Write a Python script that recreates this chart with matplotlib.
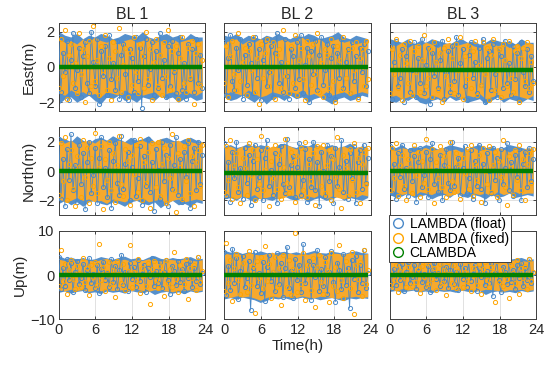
import numpy as np
import matplotlib
matplotlib.use("Agg")
import matplotlib.pyplot as plt
from matplotlib.lines import Line2D

plt.rcParams['font.family'] = ['Liberation Sans', 'DejaVu Sans']

baselines = ["BL 1", "BL 2", "BL 3"]
components = ["East(m)", "North(m)", "Up(m)"]
x_ticks = [0, 6, 12, 18, 24]
y_ticks = [[-2, 0, 2], [-2, 0, 2], [-10, 0, 10]]
y_limits = [(-2.5, 2.5), (-3, 3), (-10, 10)]
series_labels = ["LAMBDA (float)", "LAMBDA (fixed)", "CLAMBDA"]
data_end_hour = 23.5

bl1_east_float = [1.7, -1.4, 0.8, -0.3, 1.5, -1.9, 0.4, 1.9, -1.2, -0.2, 1.1, -1.7, 0.6, 1.4, -0.9, -1.5, 2.0, 0.3, -1.1, 1.6, -2.1, 0.9, -0.5, 1.2, -1.6, 1.8, -0.7, 0.2, -1.3, 1.5, -1.8, 0.7, 1.3, -0.4, -1.9, 1.0, 0.5, -1.4, 1.7, -0.8, 1.1, -2.3, 0.6, 1.6, -1.0, -0.1, 1.4, -1.6, 0.9, -1.2, 1.9, -0.6, 0.4, -1.7, 1.2, -1.1, 1.5, -0.3, -1.5, 0.8, 1.7, -1.3, 0.2, -1.8, 1.3, -0.7, 1.0, -1.4, 1.6, -0.9, 0.7, -1.2]
bl1_east_fixed = [-1.2, 1.6, -0.5, 2.1, -1.8, 0.7, 1.3, -0.9, 0.2, -1.5, 1.9, -0.4, 1.0, -2.0, 0.6, 1.5, -1.1, 2.3, -0.8, 0.4, -1.6, 1.2, -0.2, 1.8, -1.3, 0.5, -1.9, 1.4, 0.9, -0.6, 2.2, -1.4, 0.1, 1.1, -1.7, 0.8, -1.0, 1.7, -0.3, -1.5, 1.3, 0.6, -1.2, 2.0, -0.7, 1.0, -1.9, 0.3, 1.6, -1.1, 0.7, -1.6, 1.4, -0.5, 2.1, -1.3, 0.9, -0.2, 1.2, -1.8, 0.5, 1.7, -0.9, -1.4, 1.1, -0.6, 1.5, -2.1, 0.8, 1.3, -1.0, 0.4]
bl2_east_float = [1.4, -1.6, 0.5, 1.8, -0.8, -1.3, 1.1, -0.2, 1.6, -1.8, 0.7, -1.0, 1.3, 0.2, -1.5, 1.7, -0.6, 1.0, -1.9, 0.4, 1.5, -1.1, -0.3, 1.2, -1.7, 0.8, 1.9, -0.9, 0.3, -1.4, 1.6, -0.5, -1.8, 1.0, 0.6, -1.2, 1.4, -0.7, 1.8, -1.5, 0.1, 1.1, -2.0, 0.9, -0.4, 1.5, -1.3, 0.7, 1.7, -1.0, -0.2, 1.3, -1.6, 0.5, 1.2, -1.8, 0.8, -0.6, 1.6, -1.2, 0.3, 1.0, -1.5, 1.4, -0.8, 0.6, -1.7, 1.1, -0.3, 1.3, -1.1, 0.9]
bl2_east_fixed = [-0.9, 1.2, -1.7, 0.6, 1.5, -0.4, -1.3, 1.9, -0.8, 0.3, 1.1, -1.6, 0.9, -0.2, 1.7, -1.4, 0.5, -2.1, 1.3, -0.6, 0.8, 1.6, -1.1, -0.3, 1.4, -1.8, 0.7, 1.0, -1.2, 2.1, -0.5, 0.2, -1.5, 1.2, -0.9, 1.8, -1.6, 0.4, 1.1, -0.7, -1.9, 1.5, 0.6, -1.0, 1.3, -0.4, 1.9, -1.4, 0.2, -1.7, 1.0, 0.7, -1.2, 1.6, -0.8, -2.0, 1.2, 0.4, -1.3, 1.7, -0.6, 0.9, -1.5, 1.1, -0.2, 1.4, -1.8, 0.5, 1.0, -1.1, 1.5, -0.7]
bl3_east_float = [1.2, -1.8, 0.3, 1.5, -1.1, -0.6, 1.0, -2.0, 0.6, 1.3, -1.4, -0.2, 1.4, -1.7, 0.5, -0.9, 1.6, -1.5, 0.1, 1.1, -2.1, 0.8, -0.5, 1.3, -1.2, 0.4, 1.5, -1.8, -0.3, 0.9, -1.4, 1.2, -0.8, 1.7, -1.6, 0.2, 1.0, -1.1, -1.9, 0.7, 1.4, -0.6, 0.3, -1.5, 1.1, -1.0, 1.6, -2.0, 0.5, 0.9, -1.3, 1.3, -0.4, -1.7, 1.0, 0.6, -1.2, 1.5, -0.9, 0.2, -1.6, 1.2, -0.7, 0.8, -1.9, 1.4, -0.3, -1.1, 1.0, -1.4, 0.6, -0.8]
bl3_east_fixed = [-1.5, 1.0, -0.4, 1.6, -1.2, 0.7, -1.9, 1.3, 0.2, -0.9, 1.5, -1.6, 0.9, -0.3, 1.2, -1.4, 0.4, 1.8, -1.1, -0.6, 1.0, -1.7, 1.4, 0.3, -1.3, 0.8, -2.0, 1.1, -0.5, 1.6, -1.0, 0.5, -1.5, 1.3, -0.2, 1.7, -1.8, 0.6, -0.7, 1.2, -1.2, 0.9, 1.5, -1.6, 0.1, -1.0, 1.4, -0.4, 1.1, -1.9, 0.7, 1.6, -1.3, -0.2, 1.0, -1.7, 1.3, 0.4, -1.1, 1.5, -0.6, -1.4, 0.9, 1.2, -2.0, 0.5, 1.1, -0.8, 1.4, -1.2, 0.3, -0.9]

bl1_north_float = [2.2, -1.9, 0.8, -2.4, 1.5, -0.6, 2.5, -1.3, 0.4, -2.1, 1.8, -0.9, 1.2, -2.6, 0.6, 2.0, -1.5, -0.3, 1.6, -2.2, 0.9, 2.3, -1.1, 0.2, -1.8, 1.4, -2.5, 0.7, 1.9, -0.8, -1.6, 2.4, -1.2, 0.5, 1.3, -2.0, 0.3, 2.1, -1.7, -0.5, 1.7, -2.3, 1.0, -1.0, 2.2, -1.4, 0.6, -2.7, 1.5, 0.1, -1.9, 2.0, -0.7, 1.1, -2.4, 1.8, -1.2, 0.4, 2.3, -1.6, 0.8, -2.1, 1.3, -0.4, 1.9, -2.5, 0.7, 1.6, -1.3, 2.0, -0.9, 1.1]
bl1_north_fixed = [-1.6, 1.9, -0.7, 2.3, -2.0, 0.5, 1.4, -1.2, -2.4, 1.0, 0.3, -1.8, 2.1, -0.4, 1.6, -2.2, 0.9, -1.0, 2.6, -1.5, 0.2, 1.7, -2.6, 0.8, -0.6, 2.0, -1.3, 1.2, -2.1, 0.4, 2.4, -0.9, -1.7, 1.5, 0.7, -2.3, 1.1, -0.2, 1.8, -1.4, 2.2, -2.0, 0.6, -0.8, 1.3, -2.5, 1.9, 0.1, -1.1, 2.0, -1.7, 0.5, 1.6, -2.2, 0.9, -0.5, 2.5, -1.3, -2.8, 1.2, 0.3, -1.9, 1.7, -0.7, 2.1, -1.5, 1.0, -2.4, 0.6, 1.4, -1.0, 1.8]
bl2_north_float = [1.9, -1.7, 0.6, -2.1, 1.3, -0.5, 2.0, -1.4, 0.2, -1.9, 1.6, -0.8, 1.1, -2.3, 0.7, 1.8, -1.2, -0.4, 1.4, -2.0, 0.9, 2.1, -1.0, 0.1, -1.6, 1.2, -2.2, 0.5, 1.7, -0.9, -1.5, 2.2, -1.1, 0.4, 1.0, -1.8, 0.3, 1.9, -1.6, -0.6, 1.5, -2.1, 0.8, -1.1, 2.0, -1.3, 0.6, -2.4, 1.3, 0.0, -1.7, 1.8, -0.7, 1.0, -2.2, 1.6, -1.0, 0.3, 2.1, -1.4, 0.7, -1.9, 1.2, -0.5, 1.7, -2.2, 0.6, 1.4, -1.2, 1.8, -0.8, 0.9]
bl2_north_fixed = [-1.4, 1.7, -0.6, 2.1, -1.9, 0.4, 1.2, -1.1, -2.2, 0.9, 0.2, -1.6, 1.9, -0.3, 1.4, -2.0, 0.8, -0.9, 2.4, -1.3, 0.1, 1.6, -2.4, 0.7, -0.5, 1.8, -1.2, 1.1, -1.9, 0.3, 2.2, -0.8, -1.5, 1.3, 0.6, -2.1, 1.0, -0.1, 1.6, -1.3, 2.0, -1.8, 0.5, -0.7, 1.2, -2.3, 1.7, 0.0, -1.0, 1.8, -1.5, 0.4, 1.4, -2.0, 0.8, -0.4, 2.3, -1.2, -2.5, 1.1, 0.2, -1.7, 1.5, -0.6, 1.9, -1.4, 0.9, -2.2, 0.5, 1.3, -0.9, 1.6]
bl3_north_float = [1.7, -1.5, 0.5, -1.9, 1.2, -0.4, 1.8, -1.2, 0.2, -1.7, 1.4, -0.7, 1.0, -2.1, 0.6, 1.6, -1.1, -0.3, 1.3, -1.8, 0.8, 1.9, -0.9, 0.1, -1.4, 1.1, -2.0, 0.4, 1.5, -0.8, -1.3, 2.0, -1.0, 0.3, 0.9, -1.6, 0.2, 1.7, -1.5, -0.5, 1.4, -1.9, 0.7, -1.0, 1.8, -1.2, 0.5, -2.2, 1.2, 0.0, -1.5, 1.6, -0.6, 0.9, -2.0, 1.5, -0.9, 0.2, 1.9, -1.3, 0.6, -1.7, 1.1, -0.4, 1.5, -2.0, 0.5, 1.3, -1.1, 1.6, -0.7, 0.8]
bl3_north_fixed = [-1.3, 1.6, -0.5, 1.9, -1.7, 0.4, 1.1, -1.0, -2.0, 0.8, 0.2, -1.5, 1.8, -0.3, 1.3, -1.8, 0.7, -0.8, 2.2, -1.2, 0.1, 1.5, -2.2, 0.6, -0.5, 1.7, -1.1, 1.0, -1.8, 0.3, 2.0, -0.7, -1.4, 1.2, 0.5, -1.9, 0.9, -0.1, 1.5, -1.2, 1.8, -1.7, 0.5, -0.6, 1.1, -2.1, 1.6, 0.0, -0.9, 1.7, -1.4, 0.4, 1.3, -1.8, 0.7, -0.4, 2.1, -1.1, -2.3, 1.0, 0.2, -1.6, 1.4, -0.6, 1.8, -1.3, 0.8, -2.0, 0.5, 1.2, -0.8, 1.5]

bl1_up_float = [4.2, -3.1, 1.5, -2.4, 3.6, -1.2, 2.8, -3.8, 0.7, 3.3, -2.0, -0.6, 2.5, -3.4, 1.1, 3.9, -1.7, 0.3, -2.9, 2.2, -4.1, 1.4, 3.0, -1.0, 0.5, -2.6, 3.7, -1.5, 2.0, -3.2, 1.2, 4.6, -2.2, 0.8, -3.6, 2.7, -0.9, 1.8, -2.8, 3.4, -1.4, 0.2, 2.4, -3.9, 1.6, -0.4, 3.8, -2.5, 1.0, -1.8, 2.9, -3.0, 0.6, 3.5, -1.1, -4.3, 2.1, 0.9, -2.3, 3.2, -1.6, 1.3, -3.5, 2.6, -0.7, 3.1, -2.7, 1.7, -1.3, 4.0, -2.1, 0.4]
bl1_up_fixed = [-2.5, 5.8, -1.3, 2.6, -4.2, 1.1, 3.4, -0.8, -3.1, 2.0, 0.4, -2.7, 3.9, -1.6, 1.5, -4.5, 2.3, -0.5, 3.0, -2.2, 7.0, -1.0, 1.8, -3.6, 0.6, 2.9, -2.0, 1.2, -5.0, 3.3, 0.2, -1.9, 2.5, -3.3, 1.0, 6.8, -2.8, 0.7, -1.4, 3.6, -4.0, 1.7, 0.0, -2.4, 2.8, -6.5, 1.4, 3.2, -1.1, -3.0, 2.1, 0.8, -4.8, 3.5, -1.7, 1.3, -2.6, 5.2, -0.9, -3.8, 2.4, 0.5, -2.1, 3.7, -5.4, 1.6, -0.6, 2.2, -3.4, 4.1, -1.5, 0.9]
bl2_up_float = [5.2, -4.6, 2.1, -3.3, 6.0, -1.7, 3.8, -5.5, 0.9, 4.4, -2.8, -0.7, 3.1, -8.0, 1.6, 5.3, -2.4, 0.4, -4.1, 2.9, -5.8, 1.9, 4.6, -1.3, 0.6, -3.7, 5.0, -2.0, 2.7, -4.9, 1.5, 6.4, -3.0, 1.0, -5.2, 3.6, -1.2, 2.4, -3.9, 7.0, -1.9, 0.3, 3.3, -5.6, 2.2, -0.5, 5.7, -3.5, 1.3, -2.5, 4.0, -4.3, 0.8, 5.4, -1.5, -6.0, 2.8, 1.2, -3.2, 4.8, -2.2, 1.7, -7.5, 3.5, -0.9, 4.3, -3.8, 2.3, -1.8, 5.6, -2.9, 0.5]
bl2_up_fixed = [-3.6, 7.2, -1.8, 3.5, -5.9, 1.5, 4.7, -1.1, -4.4, 2.8, 0.5, -3.8, 5.4, -2.2, 2.0, -8.5, 3.1, -0.7, 4.2, -3.0, 6.5, -1.4, 2.5, -5.1, 0.8, 4.0, -2.8, 1.7, -6.8, 4.6, 0.3, -2.6, 3.4, -4.6, 1.4, 9.5, -3.9, 1.0, -2.0, 5.0, -5.6, 2.4, 0.0, -3.3, 3.9, -7.2, 1.9, 4.5, -1.5, -4.2, 2.9, 1.1, -6.2, 4.9, -2.4, 1.8, -3.6, 6.8, -1.2, -5.3, 3.3, 0.7, -2.9, 5.2, -8.8, 2.2, -0.8, 3.0, -4.7, 5.8, -2.1, 1.2]
bl3_up_float = [3.8, -2.9, 1.3, -2.2, 3.3, -1.1, 2.5, -3.5, 0.6, 3.0, -1.8, -0.5, 2.3, -3.1, 1.0, 3.6, -1.6, 0.3, -2.7, 2.0, -3.8, 1.2, 2.8, -0.9, 0.4, -2.4, 3.4, -1.4, 1.8, -2.9, 1.1, 4.2, -2.0, 0.7, -3.3, 2.5, -0.8, 1.6, -2.6, 3.1, -1.3, 0.2, 2.2, -3.6, 1.5, -0.4, 3.5, -2.3, 0.9, -1.7, 2.7, -4.8, 0.5, 3.2, -1.0, -3.9, 1.9, 0.8, -2.1, 2.9, -1.5, 1.2, -3.2, 2.4, -0.6, 2.8, -2.5, 1.6, -1.2, 3.7, -1.9, 0.4]
bl3_up_fixed = [-2.3, 3.6, -1.2, 2.4, -3.8, 1.0, 3.1, -0.7, -2.8, 1.8, 0.4, -2.5, 3.5, -1.5, 1.4, -4.0, 2.1, -0.5, 2.7, -2.0, 4.0, -0.9, 1.6, -3.3, 0.6, 2.6, -1.8, 1.1, -4.5, 3.0, 0.2, -1.7, 2.3, -3.0, 0.9, 3.9, -2.6, 0.7, -1.3, 3.3, -3.6, 1.5, 0.0, -2.2, 2.5, -4.2, 1.3, 2.9, -1.0, -2.7, 1.9, 0.7, -6.0, 3.2, -1.6, 1.2, -2.4, 3.8, -0.8, -5.2, 2.2, 0.5, -1.9, 3.4, -4.4, 1.5, -0.6, 2.0, -3.1, 3.7, -1.4, 0.8]

# ---------------- hourly extent of the dense point clouds ----------------
bl1_east_float_hi = [2.0, 1.8, 1.7, 1.9, 1.6, 1.8, 1.7, 1.9, 1.8, 1.6, 1.7, 1.9, 1.8, 1.7, 2.0, 1.7, 1.6, 1.8, 1.9, 1.7, 1.8, 1.6, 1.9, 1.7, 1.7]
bl1_east_float_lo = [-2.1, -1.8, -1.7, -2.0, -1.8, -1.6, -1.9, -2.1, -1.7, -1.8, -1.6, -1.9, -1.8, -2.0, -1.7, -1.8, -1.9, -1.6, -1.8, -1.7, -2.0, -1.8, -1.7, -1.9, -1.8]
bl1_east_fixed_hi = [1.6, 1.4, 1.5, 1.3, 1.6, 1.4, 1.7, 1.5, 1.4, 1.6, 1.3, 1.5, 1.6, 1.4, 1.5, 1.7, 1.4, 1.5, 1.3, 1.6, 1.4, 1.5, 1.6, 1.4, 1.5]
bl1_east_fixed_lo = [-1.5, -1.6, -1.3, -1.5, -1.4, -1.6, -1.5, -1.7, -1.4, -1.5, -1.6, -1.3, -1.5, -1.4, -1.6, -1.5, -1.4, -1.7, -1.5, -1.4, -1.6, -1.3, -1.5, -1.6, -1.4]
bl2_east_float_hi = [1.8, 1.7, 1.9, 1.6, 1.8, 1.7, 1.6, 1.8, 1.7, 1.9, 1.7, 1.6, 1.8, 1.7, 1.9, 1.8, 1.6, 1.7, 1.8, 2.0, 1.7, 1.6, 1.8, 1.7, 1.6]
bl2_east_float_lo = [-1.7, -1.9, -1.8, -1.6, -1.8, -2.0, -1.7, -2.1, -1.8, -1.7, -1.9, -1.6, -1.8, -1.7, -2.0, -1.8, -1.7, -1.9, -2.1, -1.8, -1.7, -1.9, -1.8, -1.6, -1.7]
bl2_east_fixed_hi = [1.4, 1.5, 1.6, 1.3, 1.5, 1.4, 1.6, 1.5, 1.3, 1.5, 1.6, 1.4, 1.5, 1.7, 1.4, 1.5, 1.6, 1.3, 1.5, 1.6, 1.4, 1.5, 1.3, 1.4, 1.5]
bl2_east_fixed_lo = [-1.6, -1.4, -1.5, -1.6, -1.3, -1.5, -1.7, -1.6, -1.4, -1.5, -1.6, -1.4, -1.5, -1.3, -1.6, -1.5, -1.7, -1.4, -1.6, -1.5, -1.4, -1.6, -1.5, -1.4, -1.5]
bl3_east_float_hi = [1.6, 1.5, 1.4, 1.6, 1.3, 1.5, 1.4, 1.6, 1.5, 1.4, 1.3, 1.5, 1.6, 1.4, 1.5, 1.3, 1.4, 1.6, 1.5, 1.4, 1.5, 1.3, 1.6, 1.4, 1.4]
bl3_east_float_lo = [-1.9, -2.0, -1.8, -1.9, -1.7, -2.0, -2.1, -1.9, -1.8, -2.0, -1.7, -1.9, -1.8, -2.0, -1.9, -1.8, -2.1, -1.9, -1.7, -2.0, -1.8, -1.9, -2.0, -1.8, -1.9]
bl3_east_fixed_hi = [1.3, 1.2, 1.4, 1.1, 1.3, 1.2, 1.4, 1.3, 1.1, 1.3, 1.4, 1.2, 1.3, 1.4, 1.2, 1.1, 1.3, 1.4, 1.2, 1.3, 1.1, 1.3, 1.2, 1.4, 1.3]
bl3_east_fixed_lo = [-1.7, -1.6, -1.8, -1.7, -1.5, -1.7, -1.8, -1.6, -1.7, -1.9, -1.6, -1.7, -1.8, -1.6, -1.7, -1.5, -1.8, -1.7, -1.6, -1.8, -1.7, -1.6, -1.7, -1.8, -1.6]

bl1_north_float_hi = [2.3, 2.2, 2.0, 2.4, 2.1, 1.9, 2.2, 2.3, 2.1, 2.4, 2.2, 2.0, 2.3, 2.1, 2.2, 2.4, 2.0, 2.2, 2.3, 2.1, 2.0, 2.2, 2.3, 2.1, 2.0]
bl1_north_float_lo = [-2.2, -2.0, -2.3, -2.1, -2.4, -2.1, -2.0, -2.2, -2.3, -2.1, -2.2, -2.4, -2.1, -2.0, -2.2, -2.3, -2.1, -2.5, -2.2, -2.0, -2.3, -2.2, -2.4, -2.1, -2.2]
bl1_north_fixed_hi = [2.0, 1.9, 2.1, 1.8, 2.0, 2.1, 1.9, 2.2, 2.0, 1.9, 2.1, 2.0, 1.8, 2.0, 2.1, 1.9, 2.0, 2.2, 1.9, 2.0, 2.1, 1.8, 2.0, 1.9, 2.0]
bl1_north_fixed_lo = [-1.9, -2.1, -2.0, -1.8, -2.0, -1.9, -2.1, -2.0, -2.2, -1.9, -2.0, -2.1, -1.9, -2.0, -1.8, -2.1, -2.0, -1.9, -2.2, -2.0, -1.9, -2.1, -2.0, -1.9, -2.0]
bl2_north_float_hi = [1.7, 1.8, 1.6, 1.7, 1.9, 1.6, 1.8, 1.7, 1.5, 1.8, 1.9, 1.7, 1.6, 1.8, 1.7, 1.9, 1.6, 1.7, 1.8, 1.6, 1.7, 1.9, 1.6, 1.7, 1.6]
bl2_north_float_lo = [-1.9, -1.8, -2.0, -1.7, -1.9, -2.1, -1.8, -1.9, -2.0, -1.8, -1.7, -1.9, -2.0, -1.8, -2.1, -1.9, -1.8, -2.0, -1.9, -1.7, -2.0, -1.8, -1.9, -2.0, -1.8]
bl2_north_fixed_hi = [1.6, 1.7, 1.5, 1.7, 1.6, 1.8, 1.6, 1.5, 1.7, 1.6, 1.8, 1.7, 1.5, 1.6, 1.7, 1.6, 1.8, 1.5, 1.7, 1.6, 1.7, 1.5, 1.6, 1.7, 1.6]
bl2_north_fixed_lo = [-1.8, -1.7, -1.9, -1.7, -1.8, -1.6, -1.9, -1.8, -1.7, -1.9, -1.8, -1.6, -1.8, -1.9, -1.7, -1.8, -1.6, -1.9, -1.7, -1.8, -1.9, -1.7, -1.8, -1.6, -1.7]
bl3_north_float_hi = [1.7, 1.6, 1.8, 1.5, 1.7, 1.6, 1.8, 1.7, 1.5, 1.6, 1.8, 1.7, 1.6, 1.5, 1.7, 1.8, 1.6, 1.7, 1.5, 1.6, 1.8, 1.7, 1.6, 1.5, 1.6]
bl3_north_float_lo = [-1.6, -1.8, -1.7, -1.5, -1.8, -1.7, -1.6, -1.9, -1.7, -1.6, -1.8, -1.5, -1.7, -1.8, -1.6, -1.7, -1.9, -1.6, -1.8, -1.7, -1.5, -1.8, -1.7, -1.6, -1.7]
bl3_north_fixed_hi = [1.5, 1.4, 1.6, 1.5, 1.3, 1.5, 1.6, 1.4, 1.5, 1.6, 1.4, 1.5, 1.3, 1.5, 1.6, 1.4, 1.5, 1.4, 1.6, 1.5, 1.3, 1.5, 1.4, 1.6, 1.5]
bl3_north_fixed_lo = [-1.5, -1.4, -1.6, -1.5, -1.7, -1.4, -1.5, -1.6, -1.4, -1.5, -1.7, -1.5, -1.6, -1.4, -1.5, -1.6, -1.5, -1.7, -1.4, -1.6, -1.5, -1.4, -1.6, -1.5, -1.5]

bl1_up_float_hi = [4.4, 3.8, 4.1, 3.6, 4.0, 3.5, 3.7, 4.2, 3.9, 3.6, 4.0, 4.3, 3.7, 3.9, 3.5, 4.1, 4.4, 3.8, 3.6, 4.0, 3.7, 3.9, 4.2, 3.6, 3.8]
bl1_up_float_lo = [-3.9, -3.6, -4.1, -3.7, -3.5, -4.0, -3.8, -4.2, -3.6, -3.9, -3.7, -4.1, -3.5, -3.8, -4.0, -3.6, -4.4, -3.9, -3.7, -4.1, -3.8, -4.2, -3.6, -3.9, -3.7]
bl1_up_fixed_hi = [3.6, 3.3, 3.5, 3.2, 3.7, 3.4, 3.1, 3.5, 3.8, 3.3, 3.4, 3.6, 3.2, 3.5, 3.3, 3.7, 3.4, 3.2, 3.6, 3.5, 3.3, 3.7, 3.4, 3.2, 3.5]
bl1_up_fixed_lo = [-3.4, -3.6, -3.2, -3.5, -3.3, -3.7, -3.4, -3.6, -3.2, -3.5, -3.4, -3.3, -3.6, -3.2, -3.5, -3.7, -3.3, -3.4, -3.6, -3.8, -3.4, -3.5, -3.3, -3.6, -3.4]
bl2_up_float_hi = [5.6, 5.2, 5.4, 4.9, 5.3, 5.0, 5.5, 5.1, 4.8, 5.2, 5.4, 5.0, 5.3, 4.9, 5.2, 5.6, 5.1, 5.0, 5.4, 5.2, 4.9, 5.3, 5.5, 5.1, 5.0]
bl2_up_float_lo = [-5.4, -5.1, -5.5, -5.0, -5.3, -5.6, -6.2, -5.8, -5.2, -5.4, -5.1, -5.5, -5.3, -5.0, -5.4, -5.2, -5.6, -5.3, -5.1, -5.5, -5.8, -5.2, -5.4, -5.1, -5.3]
bl2_up_fixed_hi = [5.0, 4.7, 4.9, 4.6, 5.1, 4.8, 4.5, 4.9, 5.2, 4.7, 4.8, 5.0, 4.6, 4.9, 4.7, 5.1, 4.8, 4.6, 5.0, 4.9, 4.7, 5.1, 4.8, 4.6, 4.9]
bl2_up_fixed_lo = [-4.9, -5.1, -4.7, -5.0, -4.8, -5.2, -5.7, -5.1, -4.7, -5.0, -4.9, -4.8, -5.1, -4.7, -5.0, -5.2, -4.8, -4.9, -5.1, -5.3, -4.9, -5.0, -4.8, -5.1, -4.9]
bl3_up_float_hi = [4.0, 3.7, 3.9, 3.5, 3.8, 3.4, 3.6, 4.0, 3.8, 3.5, 3.9, 4.1, 3.6, 3.8, 3.4, 3.9, 4.1, 3.7, 3.5, 3.9, 3.6, 3.8, 4.0, 3.5, 3.7]
bl3_up_float_lo = [-3.7, -3.5, -3.9, -3.6, -3.4, -3.8, -3.6, -4.0, -3.5, -3.7, -3.6, -3.9, -3.4, -3.7, -3.8, -3.5, -4.4, -3.8, -3.6, -3.9, -3.7, -4.0, -3.5, -3.8, -3.6]
bl3_up_fixed_hi = [3.4, 3.2, 3.3, 3.1, 3.5, 3.2, 3.0, 3.3, 3.6, 3.1, 3.3, 3.4, 3.1, 3.3, 3.2, 3.5, 3.3, 3.1, 3.4, 3.3, 3.2, 3.5, 3.3, 3.1, 3.3]
bl3_up_fixed_lo = [-3.3, -3.5, -3.1, -3.4, -3.2, -3.6, -3.3, -3.5, -3.1, -3.4, -3.3, -3.2, -3.5, -3.1, -3.4, -3.6, -3.2, -3.3, -3.5, -3.7, -3.3, -3.4, -3.2, -3.5, -3.3]

# CLAMBDA solutions (nearly constant per panel)
clambda_east = [0.0, 0.0, -0.2]
clambda_north = [0.0, -0.1, 0.0]
clambda_up = [0.0, 0.0, 0.0]

float_rows = [[bl1_east_float, bl2_east_float, bl3_east_float],
              [bl1_north_float, bl2_north_float, bl3_north_float],
              [bl1_up_float, bl2_up_float, bl3_up_float]]
fixed_rows = [[bl1_east_fixed, bl2_east_fixed, bl3_east_fixed],
              [bl1_north_fixed, bl2_north_fixed, bl3_north_fixed],
              [bl1_up_fixed, bl2_up_fixed, bl3_up_fixed]]
float_env = [[(bl1_east_float_lo, bl1_east_float_hi), (bl2_east_float_lo, bl2_east_float_hi), (bl3_east_float_lo, bl3_east_float_hi)],
             [(bl1_north_float_lo, bl1_north_float_hi), (bl2_north_float_lo, bl2_north_float_hi), (bl3_north_float_lo, bl3_north_float_hi)],
             [(bl1_up_float_lo, bl1_up_float_hi), (bl2_up_float_lo, bl2_up_float_hi), (bl3_up_float_lo, bl3_up_float_hi)]]
fixed_env = [[(bl1_east_fixed_lo, bl1_east_fixed_hi), (bl2_east_fixed_lo, bl2_east_fixed_hi), (bl3_east_fixed_lo, bl3_east_fixed_hi)],
             [(bl1_north_fixed_lo, bl1_north_fixed_hi), (bl2_north_fixed_lo, bl2_north_fixed_hi), (bl3_north_fixed_lo, bl3_north_fixed_hi)],
             [(bl1_up_fixed_lo, bl1_up_fixed_hi), (bl2_up_fixed_lo, bl2_up_fixed_hi), (bl3_up_fixed_lo, bl3_up_fixed_hi)]]
clambda_rows = [clambda_east, clambda_north, clambda_up]

c_float = '#4a89c8'
c_fixed = '#ffa500'
c_clam = '#008000'

fig, axes = plt.subplots(3, 3, figsize=(5.5, 3.69), dpi=100)
fig.subplots_adjust(left=0.107, right=0.975, top=0.938, bottom=0.135, wspace=0.13, hspace=0.18)

for r in range(3):
    for c in range(3):
        ax = axes[r, c]
        lo_f, hi_f = float_env[r][c]
        lo_x, hi_x = fixed_env[r][c]
        th = np.linspace(0, data_end_hour, len(hi_f))
        ax.fill_between(th, lo_f, hi_f, color='#5590cc', lw=0, zorder=2)
        ax.fill_between(th, lo_x, hi_x, color='#f6a92e', lw=0, zorder=2.5)
        vf = np.asarray(float_rows[r][c])
        vx = np.asarray(fixed_rows[r][c])
        tf = np.linspace(0, data_end_hour, len(vf))
        tx = np.linspace(0, data_end_hour, len(vx))
        ax.plot(tf, vf, '-', color=c_float, lw=0.6, zorder=2.8)
        ax.plot(tf, vf, 'o', mfc='none', mec=c_float, ms=3, mew=0.7, zorder=3)
        ax.plot(tx, vx, 'o', mfc='none', mec=c_fixed, ms=3, mew=0.7, zorder=3.5)
        cv = clambda_rows[r][c]
        ax.plot([0, data_end_hour], [cv, cv], '-', color=c_clam, lw=3.2, zorder=4,
                solid_capstyle='butt')
        ax.set_xlim(0, 24)
        ax.set_ylim(*y_limits[r])
        ax.set_xticks(x_ticks)
        ax.set_yticks(y_ticks[r])
        ax.grid(True, color='#dcdcdc', lw=0.6)
        ax.set_axisbelow(True)
        ax.tick_params(direction='in', length=2.5, width=0.6, top=True, right=True,
                       labelsize=10.5, colors='#262626', pad=3)
        for s in ax.spines.values():
            s.set_color('#404040')
            s.set_linewidth(0.7)
        if c != 0:
            ax.set_yticklabels([])
        else:
            ax.set_ylabel(components[r], fontsize=11, color='#262626', labelpad=2)
        if r != 2:
            ax.set_xticklabels([])
        if r == 0:
            ax.set_title(baselines[c], fontsize=11.5, color='#262626', pad=3)

axes[2, 1].set_xlabel("Time(h)", fontsize=11, color='#262626', labelpad=1)

handles = [Line2D([], [], ls='none', marker='o', mfc='none', mec=col, ms=7, mew=1.0)
           for col in (c_float, c_fixed, c_clam)]
leg = fig.legend(handles, series_labels, loc='upper left', bbox_to_anchor=(0.707, 0.418),
                 fontsize=10, frameon=True, fancybox=False, framealpha=1,
                 edgecolor='#404040', borderpad=0.15, labelspacing=0.05,
                 handlelength=1.0, handletextpad=0.35, borderaxespad=0)
leg.get_frame().set_linewidth(0.7)
leg.set_zorder(10)

fig.savefig("out.png", dpi=100)
